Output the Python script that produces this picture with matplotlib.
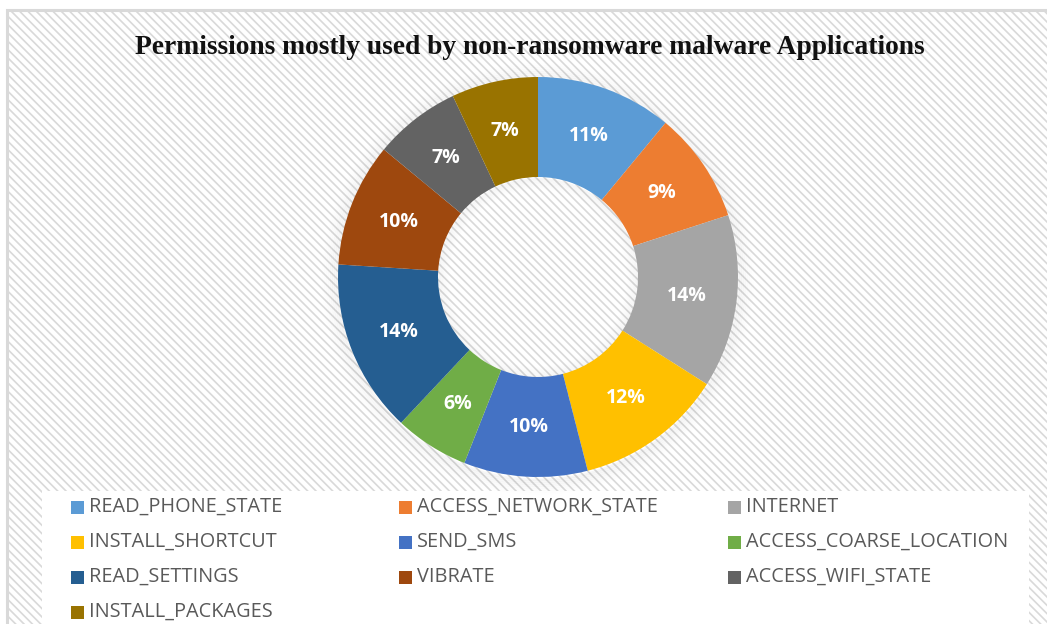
import numpy as np
import matplotlib
matplotlib.use('Agg')
import matplotlib.pyplot as plt
from matplotlib.patches import Rectangle, Wedge

# permission share (%) among non-ransomware malware apps
labels = ['READ_PHONE_STATE', 'ACCESS_NETWORK_STATE', 'INTERNET',
          'INSTALL_SHORTCUT', 'SEND_SMS', 'ACCESS_COARSE_LOCATION',
          'READ_SETTINGS', 'VIBRATE', 'ACCESS_WIFI_STATE', 'INSTALL_PACKAGES']
shares = [11, 9, 14, 12, 10, 6, 14, 10, 7, 7]
colors = ['#5B9BD5', '#ED7D31', '#A5A5A5', '#FFC000', '#4472C4',
          '#70AD47', '#255E91', '#9E480E', '#636363', '#997300']
title = 'Permissions mostly used by non-ransomware malware Applications'

W, H = 1047, 624
plt.rcParams['hatch.linewidth'] = 1.2
plt.rcParams['hatch.color'] = '#f4f4f4'

fig = plt.figure(figsize=(W / 100, H / 100), dpi=100)
fig.patch.set_facecolor('white')

def px(x, y):
    # pixel coords (top-left origin) -> figure fraction
    return x / W, 1 - y / H

# chart area with faint diagonal stripes and grey frame
bg = Rectangle(px(7, 640), 1060 / W, 630 / H, transform=fig.transFigure,
               facecolor='white', edgecolor='#d9d9d9', lw=2.2,
               hatch='\\\\\\\\', zorder=0)
fig.patches.append(bg)

# white panel behind the legend
lg = Rectangle(px(42, 640), (1029 - 42) / W, (640 - 491) / H,
               transform=fig.transFigure, facecolor='white',
               edgecolor='none', zorder=1)
fig.patches.append(lg)

fig.text(530 / W, px(0, 47)[1], title, ha='center', va='center',
         fontsize=19.8, fontweight='bold', family='Liberation Serif',
         color='#111111', zorder=3)

# donut axes: 1 unit = 200 px, centred at (538, 277)
cx, cy, R = 538, 277, 200
ax = fig.add_axes([(cx - 1.25 * R) / W, 1 - (cy + 1.25 * R) / H,
                   2.5 * R / W, 2.5 * R / H])
ax.set_zorder(5)
ax.set_xlim(-1.25, 1.25)
ax.set_ylim(-1.25, 1.25)
ax.set_aspect('equal')
ax.axis('off')
ax.patch.set_alpha(0)

# soft shadow around the ring and inside the hole
for i in range(8):
    ax.add_patch(Wedge((0, -0.01), 1.0 + 0.01 * (i + 1), 0, 360,
                       width=0.012, facecolor='black', alpha=0.035 * (8 - i) / 8,
                       edgecolor='none', zorder=1))
    ax.add_patch(Wedge((0, -0.005), 0.5 - 0.007 * i, 0, 360,
                       width=0.008, facecolor='black', alpha=0.03 * (8 - i) / 8,
                       edgecolor='none', zorder=1))

wedges, texts = ax.pie(shares, colors=colors, startangle=90, counterclock=False,
                       radius=1.0, wedgeprops=dict(width=0.5, edgecolor='none'))
for w in wedges:
    w.set_zorder(2)

total = sum(shares)
for w, v in zip(wedges, shares):
    mid = np.deg2rad((w.theta1 + w.theta2) / 2)
    ax.text(0.75 * np.cos(mid), 0.75 * np.sin(mid), f'{v / total * 100:.0f}%',
            ha='center', va='center', color='white', fontsize=14,
            fontweight='bold', family='Open Sans', zorder=3)

# legend: three columns, rows 35 px apart
col_x = [71, 399, 728]
row_y = [507, 542, 577, 612]
for i, (lab, c) in enumerate(zip(labels, colors)):
    x0, y0 = col_x[i % 3], row_y[i // 3]
    fig.patches.append(Rectangle(px(x0, y0 + 6.5), 13 / W, 13 / H,
                                 transform=fig.transFigure, facecolor=c,
                                 edgecolor='none', zorder=2))
    fig.text(*px(x0 + 18, y0), lab, ha='left', va='center', fontsize=14.3,
             family='Open Sans', color='#595959', zorder=2)

fig.savefig('out.png', dpi=100)
